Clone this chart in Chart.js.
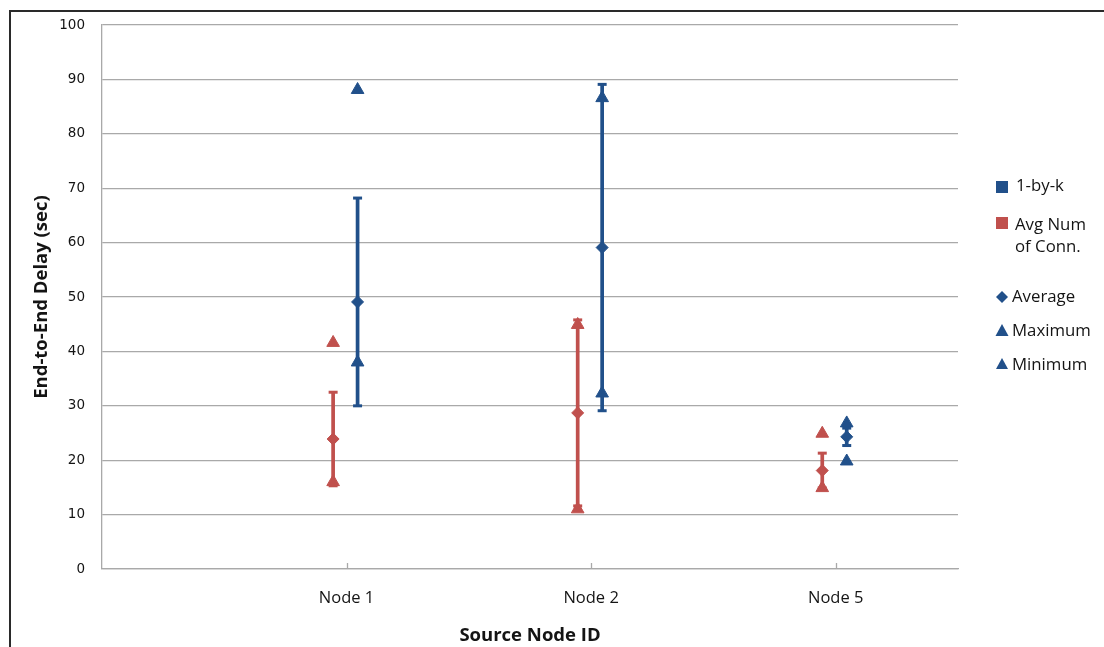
<!DOCTYPE html>
<html><head><meta charset="utf-8">
<script src="https://cdn.jsdelivr.net/npm/chart.js@4/dist/chart.umd.min.js"></script>
<style>html,body{margin:0;padding:0;background:#fff;overflow:hidden}#wrap{width:1104px;height:647px;position:relative}</style>
</head><body><div id="wrap"><canvas id="c" width="1104" height="647"></canvas></div>
<script>
// ---- data ----
const categories = ['Node 1', 'Node 2', 'Node 5'];
const categoryX = [1, 2, 3];
const yTicks = [0, 10, 20, 30, 40, 50, 60, 70, 80, 90, 100];

const byK_avg = [49.1, 59.1, 24.3];
const byK_max = [88.1, 86.6, 26.8];
const byK_min = [38.0, 32.3, 19.8];
const byK_err = [19.1, 30.0, 1.6];

const conn_avg = [23.9, 28.7, 18.1];
const conn_max = [41.6, 44.9, 24.9];
const conn_min = [16.0, 11.0, 14.9];
const conn_err = [8.6, 17.1, 3.2];

const seriesNames = ['1-by-k', 'Avg Num|of Conn.'];
const markerNames = ['Average', 'Maximum', 'Minimum'];

// ---- style ----
const BLUE = '#21508A';
const RED = '#C0504D';
const GRID = '#a9a9a9';
const TXT = '#141414';
const OFF_CONN = -0.055, OFF_BYK = 0.045;
const FONT = 'Open Sans';

function pts(vals, off) { return vals.map((v, i) => ({ x: categoryX[i] + off, y: v })); }
function mk(label, vals, off, color, style, r) {
  return { label, data: pts(vals, off), showLine: false, pointStyle: style, pointRadius: r, pointHoverRadius: r,
    backgroundColor: color, borderColor: color, borderWidth: 1, order: 1 };
}
function errDatasets(avg, err, off, color) {
  return avg.map((a, i) => ({
    type: 'line', label: 'err', order: 10,
    data: [{ x: categoryX[i] + off, y: a + err[i] }, { x: categoryX[i] + off, y: a - err[i] }],
    showLine: true, borderColor: color, borderWidth: 3.7, fill: false,
    pointStyle: 'line', pointRadius: 4.5, pointHoverRadius: 4.5, pointBorderWidth: 3,
    pointBorderColor: color, pointBackgroundColor: color
  }));
}

const decor = {
  id: 'decor',
  afterDraw(chart) {
    const { ctx, scales: { x, y } } = chart;
    ctx.save();
    // outer frame
    ctx.strokeStyle = '#2a2a2a'; ctx.lineWidth = 2;
    ctx.beginPath(); ctx.moveTo(10, 647); ctx.lineTo(10, 11); ctx.lineTo(1104, 11); ctx.stroke();
    // inner tick marks on x axis
    ctx.strokeStyle = GRID; ctx.lineWidth = 1.3;
    const b = y.getPixelForValue(0);
    categoryX.forEach(v => {
      const px = Math.round(x.getPixelForValue(v)) + 0.5;
      ctx.beginPath(); ctx.moveTo(px, b); ctx.lineTo(px, b - 6); ctx.stroke();
    });
    // legend
    ctx.font = '16.8px "' + FONT + '"';
    ctx.textBaseline = 'middle'; ctx.textAlign = 'left';
    ctx.fillStyle = BLUE; ctx.fillRect(996, 181, 12, 12);
    ctx.fillStyle = RED; ctx.fillRect(996, 217, 12, 12);
    ctx.fillStyle = TXT;
    ctx.fillText(seriesNames[0], 1016, 186);
    const l2 = seriesNames[1].split('|');
    ctx.fillText(l2[0], 1015, 225);
    ctx.fillText(l2[1], 1015, 247);
    ctx.fillStyle = BLUE;
    const dx = 1002;
    ctx.beginPath(); ctx.moveTo(dx, 291); ctx.lineTo(dx + 6, 297); ctx.lineTo(dx, 303); ctx.lineTo(dx - 6, 297); ctx.closePath(); ctx.fill();
    ctx.beginPath(); ctx.moveTo(dx, 324); ctx.lineTo(dx + 6.5, 336); ctx.lineTo(dx - 6.5, 336); ctx.closePath(); ctx.fill();
    ctx.beginPath(); ctx.moveTo(dx, 358); ctx.lineTo(dx + 6, 369); ctx.lineTo(dx - 6, 369); ctx.closePath(); ctx.fill();
    ctx.fillStyle = TXT;
    ctx.fillText(markerNames[0], 1012, 297);
    ctx.fillText(markerNames[1], 1012, 331);
    ctx.fillText(markerNames[2], 1012, 365);
    ctx.restore();
  }
};

new Chart(document.getElementById('c'), {
  type: 'scatter',
  data: {
    datasets: [
      mk('Avg Num of Conn. Average', conn_avg, OFF_CONN, RED, 'rectRot', 6),
      mk('Avg Num of Conn. Maximum', conn_max, OFF_CONN, RED, 'triangle', 7.3),
      mk('Avg Num of Conn. Minimum', conn_min, OFF_CONN, RED, 'triangle', 7.3),
      mk('1-by-k Average', byK_avg, OFF_BYK, BLUE, 'rectRot', 6),
      mk('1-by-k Maximum', byK_max, OFF_BYK, BLUE, 'triangle', 7.3),
      mk('1-by-k Minimum', byK_min, OFF_BYK, BLUE, 'triangle', 7.3),
      ...errDatasets(conn_avg, conn_err, OFF_CONN, RED),
      ...errDatasets(byK_avg, byK_err, OFF_BYK, BLUE)
    ]
  },
  options: {
    responsive: false, animation: false, devicePixelRatio: 1,
    layout: { padding: { left: 31, right: 146, top: 25, bottom: 0 } },
    plugins: { legend: { display: false }, tooltip: { enabled: false } },
    scales: {
      x: {
        type: 'linear', min: 0, max: 3.5,
        afterBuildTicks: s => { s.ticks = categoryX.map(v => ({ value: v })); },
        afterFit: s => { s.height = 78; },
        ticks: { autoSkip: false, maxRotation: 0, padding: 11, color: TXT, font: { family: FONT, size: 16.5 },
          callback: v => { const i = categoryX.indexOf(v); return i >= 0 ? categories[i] : ''; } },
        grid: { display: false },
        border: { display: true, color: GRID, width: 1.3 },
        title: { display: true, text: 'Source Node ID', color: TXT, font: { family: FONT, size: 18.5, weight: 'bold' }, padding: { top: 0, bottom: 0 } }
      },
      y: {
        min: 0, max: 100,
        afterBuildTicks: s => { s.ticks = yTicks.map(v => ({ value: v })); },
        afterFit: s => { s.width = 71; },
        ticks: { padding: 17, color: TXT, font: { family: 'DejaVu Sans', size: 13.5 } },
        grid: { color: GRID, lineWidth: 1.3, drawTicks: false },
        border: { display: true, color: GRID, width: 1.3 },
        title: { display: true, text: 'End-to-End Delay (sec)', color: TXT, font: { family: FONT, size: 18.5, weight: 'bold' }, padding: 0 }
      }
    }
  },
  plugins: [decor]
});
</script></body></html>
